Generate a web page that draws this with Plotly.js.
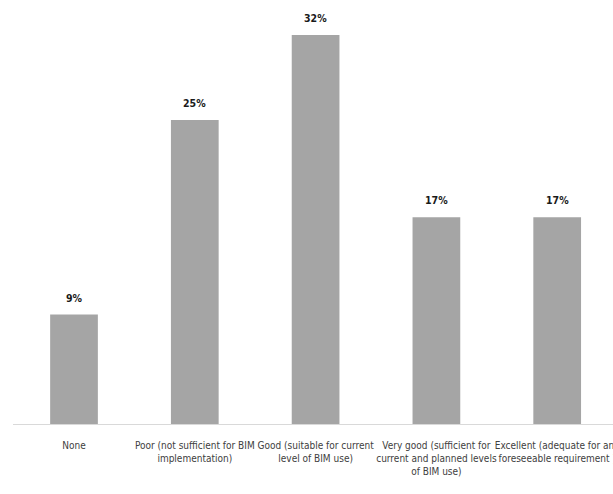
<!DOCTYPE html>
<html>
<head>
<meta charset="utf-8">
<script src="https://cdn.plot.ly/plotly-3.0.1.min.js"></script>
<style>
  html, body { margin: 0; padding: 0; background: #ffffff; }
  #chart { width: 613px; height: 494px; }
</style>
</head>
<body>
<div id="chart"></div>
<script>
// Rating categories and the share of responses for each
const categories = [
  'None',
  'Poor (not sufficient for BIM<br>implementation)',
  'Good (suitable for current<br>level of BIM use)',
  'Very good (sufficient for<br>current and planned levels<br>of BIM use)',
  'Excellent (adequate for any<br>foreseeable requirement )'
];
const shares = [9, 25, 32, 17, 17];
const shareLabels = ['9%', '25%', '32%', '17%', '17%'];

const narrowFont = '"DejaVu Sans Condensed", "Liberation Sans Narrow", sans-serif';
const positions = categories.map((_, i) => i);

const bars = {
  type: 'bar',
  x: positions,
  y: shares,
  marker: { color: '#a5a5a5' },
  hoverinfo: 'skip'
};

// value labels sit a fixed distance above each bar
const valueNotes = shares.map((v, i) => ({
  x: i,
  y: v,
  xref: 'x',
  yref: 'y',
  text: '<b>' + shareLabels[i] + '</b>',
  showarrow: false,
  yanchor: 'middle',
  yshift: 17,
  font: { family: narrowFont, size: 10.5, color: '#1a1a1a' }
}));

const layout = {
  width: 613,
  height: 494,
  margin: { l: 13, r: 0, t: 35, b: 70 },
  paper_bgcolor: '#ffffff',
  plot_bgcolor: '#ffffff',
  showlegend: false,
  bargap: 0.605,
  xaxis: {
    type: 'linear',
    range: [-0.505, 4.462],
    tickmode: 'array',
    tickvals: positions,
    ticktext: categories,
    tickangle: 0,
    ticklabeloverflow: 'allow',
    ticks: '',
    showgrid: false,
    zeroline: false,
    showline: true,
    linecolor: '#d9d9d9',
    linewidth: 1,
    ticklabelstandoff: 12,
    tickfont: { family: narrowFont, size: 10, color: '#404040' }
  },
  yaxis: {
    range: [0, 32],
    showgrid: false,
    zeroline: false,
    showline: false,
    showticklabels: false,
    ticks: ''
  },
  annotations: valueNotes
};

Plotly.newPlot('chart', [bars], layout, { displayModeBar: false, staticPlot: true });
</script>
</body>
</html>
